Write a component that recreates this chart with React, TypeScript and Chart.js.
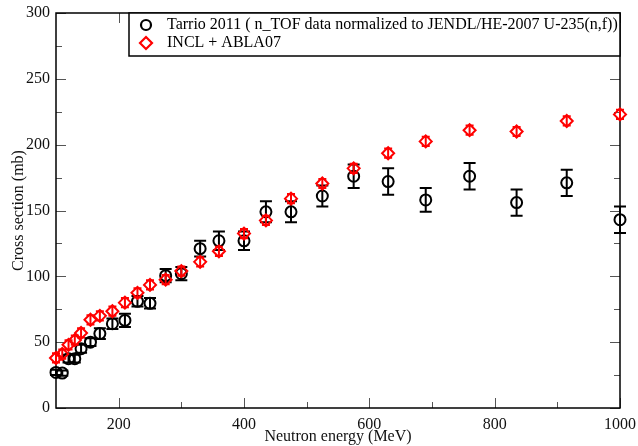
import React, { useEffect, useRef } from "react";
import { Chart, registerables } from "chart.js";

Chart.register(...registerables);

const energies = [100, 110, 120, 130, 140, 155, 170, 190, 210, 230, 250, 275, 300, 330, 360, 400, 435, 475, 525, 575, 630, 690, 760, 835, 915, 1000];
const tarrio = [27, 26.5, 37.5, 37.5, 45, 50, 56.5, 64, 66.5, 81, 79.5, 100.5, 102, 121, 127, 127, 149, 149, 161, 176, 172, 158, 176, 156, 171, 143];
const tarrioErr = [2, 2, 3, 3, 3, 3, 4, 4, 5, 4, 4, 5, 5, 6, 7, 7, 8, 8, 8, 9, 10, 9, 10, 10, 10, 10];
const incl = [38, 41, 48, 51.5, 57, 67, 70, 73.5, 80, 87.5, 93.5, 97.5, 104, 111, 119, 132.5, 142.5, 159, 170.5, 182, 193.5, 202.5, 211, 210, 218, 223];
const inclErr = [3.5, 3.5, 3.5, 3.5, 3.5, 3.5, 3.5, 3.5, 3.5, 3.5, 3.5, 3.5, 3.5, 3.5, 3.5, 3.5, 3.5, 3.5, 3.5, 3.5, 3.5, 3.5, 3.5, 3.5, 3.5, 3.5];

const xMajor = [200, 400, 600, 800, 1000];
const xMinor = [300, 500, 700, 900];
const yMajor = [0, 50, 100, 150, 200, 250, 300];
const yMinor = [25, 75, 125, 175, 225, 275];

const legendLabels = [
  "Tarrio 2011 ( n_TOF data normalized to JENDL/HE-2007 U-235(n,f))",
  "INCL + ABLA07",
];

const RED = "#ff0000";
const BLACK = "#000000";
const FONT = '"Liberation Serif", "Times New Roman", serif';

const errBars = {
  id: "errBars",
  afterDatasetDraw(chart: any, args: any) {
    const ds = chart.data.datasets[args.index];
    const errs: number[] = ds.errs;
    if (!errs) return;
    const { ctx, scales } = chart;
    const xs = scales.x, ys = scales.y;
    ctx.save();
    ctx.strokeStyle = ds.borderColor;
    ctx.lineWidth = 2;
    ds.data.forEach((p: any, i: number) => {
      const px = xs.getPixelForValue(p.x);
      const y1 = ys.getPixelForValue(p.y - errs[i]);
      const y2 = ys.getPixelForValue(p.y + errs[i]);
      const w = ds.capHalf;
      ctx.beginPath();
      ctx.moveTo(px, y1);
      ctx.lineTo(px, y2);
      ctx.moveTo(px - w, y1);
      ctx.lineTo(px + w, y1);
      ctx.moveTo(px - w, y2);
      ctx.lineTo(px + w, y2);
      ctx.stroke();
    });
    ctx.restore();
  },
};

const frame = {
  id: "frame",
  beforeDatasetsDraw(chart: any) {
    const { ctx, chartArea: a, scales } = chart;
    const xs = scales.x, ys = scales.y;
    ctx.save();
    ctx.strokeStyle = "#555";
    ctx.lineWidth = 1;
    const tick = (vals: number[], len: number) => {
      vals.forEach((v) => {
        const px = Math.round(xs.getPixelForValue(v)) + 0.5;
        ctx.beginPath();
        ctx.moveTo(px, a.bottom);
        ctx.lineTo(px, a.bottom - len);
        ctx.moveTo(px, a.top);
        ctx.lineTo(px, a.top + len);
        ctx.stroke();
      });
    };
    const ytick = (vals: number[], len: number) => {
      vals.forEach((v) => {
        const py = Math.round(ys.getPixelForValue(v)) + 0.5;
        ctx.beginPath();
        ctx.moveTo(a.left, py);
        ctx.lineTo(a.left + len, py);
        ctx.moveTo(a.right, py);
        ctx.lineTo(a.right - len, py);
        ctx.stroke();
      });
    };
    tick(xMajor, 10);
    tick(xMinor, 6);
    ytick(yMajor, 10);
    ytick(yMinor, 6);
    ctx.strokeStyle = "#000";
    ctx.lineWidth = 1.5;
    ctx.strokeRect(a.left, a.top, a.right - a.left, a.bottom - a.top);
    ctx.restore();
  },
  afterDraw(chart: any) {
    const { ctx, chartArea: a } = chart;
    ctx.save();
    const bx = 129, by = a.top, bw = a.right - 129, bh = 43;
    ctx.fillStyle = "#fff";
    ctx.fillRect(bx, by, bw, bh);
    ctx.strokeStyle = "#000";
    ctx.lineWidth = 1.5;
    ctx.strokeRect(bx, by, bw, bh);
    ctx.lineWidth = 2.2;
    ctx.strokeStyle = BLACK;
    ctx.beginPath();
    ctx.arc(146, by + 12, 5, 0, Math.PI * 2);
    ctx.stroke();
    ctx.strokeStyle = RED;
    const dy = by + 30;
    ctx.beginPath();
    ctx.moveTo(146, dy - 6);
    ctx.lineTo(152, dy);
    ctx.lineTo(146, dy + 6);
    ctx.lineTo(140, dy);
    ctx.closePath();
    ctx.stroke();
    ctx.fillStyle = "#000";
    ctx.font = `16px ${FONT}`;
    ctx.textBaseline = "middle";
    ctx.fillText(legendLabels[0], 167, by + 12);
    ctx.fillText(legendLabels[1], 167, by + 30);
    ctx.restore();
  },
};

export default function App() {
  const ref = useRef<HTMLCanvasElement>(null);
  useEffect(() => {
    const chart = new Chart(ref.current!, {
      type: "scatter",
      data: {
        datasets: [
          {
            label: legendLabels[1],
            data: energies.map((e, i) => ({ x: e, y: incl[i] })),
            errs: inclErr,
            capHalf: 4,
            borderColor: RED,
            backgroundColor: "rgba(0,0,0,0)",
            pointStyle: "rectRot",
            pointRadius: 6,
            pointBorderWidth: 2,
            order: 0,
            clip: false,
          } as any,
          {
            label: legendLabels[0],
            data: energies.map((e, i) => ({ x: e, y: tarrio[i] })),
            errs: tarrioErr,
            capHalf: 6,
            borderColor: BLACK,
            backgroundColor: "rgba(0,0,0,0)",
            pointStyle: "circle",
            pointRadius: 5.5,
            pointBorderWidth: 2,
            order: 1,
            clip: false,
          } as any,
        ],
      },
      options: {
        animation: false,
        responsive: false,
        layout: { padding: { top: 13, right: 18, left: 0, bottom: 0 } },
        plugins: { legend: { display: false }, tooltip: { enabled: false } },
        scales: {
          x: {
            type: "linear",
            min: 100,
            max: 1000,
            afterBuildTicks: (s: any) => {
              s.ticks = xMajor.map((v) => ({ value: v }));
            },
            afterFit: (s: any) => {
              s.height = 38;
              s.paddingLeft = 0;
              s.paddingRight = 0;
            },
            grid: { display: false, drawTicks: false },
            border: { display: false },
            ticks: {
              padding: 7,
              color: "#111",
              font: { family: FONT, size: 16 },
              maxRotation: 0,
              callback: (v: any) => String(v),
            },
            title: {
              display: true,
              text: "Neutron energy (MeV)",
              color: "#111",
              font: { family: FONT, size: 16 },
              padding: { top: 0, bottom: 0 },
            },
          },
          y: {
            type: "linear",
            min: 0,
            max: 300,
            afterBuildTicks: (s: any) => {
              s.ticks = yMajor.map((v) => ({ value: v }));
            },
            afterFit: (s: any) => {
              s.width = 56;
              s.paddingTop = 0;
              s.paddingBottom = 0;
            },
            grid: { display: false, drawTicks: false },
            border: { display: false },
            ticks: {
              padding: 6,
              color: "#111",
              font: { family: FONT, size: 16 },
              callback: (v: any) => String(v),
            },
            title: {
              display: true,
              text: "Cross section (mb)",
              color: "#111",
              font: { family: FONT, size: 16 },
              padding: { top: 9, bottom: 0 },
            },
          },
        },
      },
      plugins: [frame, errBars],
    } as any);
    return () => chart.destroy();
  }, []);
  return (
    <div style={{ position: "fixed", left: 0, top: 0, width: 638, height: 446, background: "#fff" }}>
      <canvas ref={ref} width={638} height={446} />
    </div>
  );
}
